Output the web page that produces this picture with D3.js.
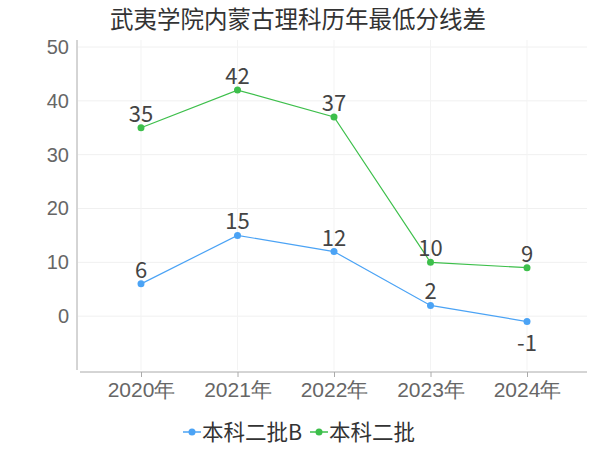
<!DOCTYPE html>
<html><head><meta charset="utf-8">
<script src="https://cdn.jsdelivr.net/npm/d3@7"></script>
<style>body{margin:0;background:#fff;font-family:"Noto Sans CJK SC","Noto Sans",sans-serif}</style>
</head><body><svg id="c" width="600" height="450"></svg>
<script>
const years = ['2020年', '2021年', '2022年', '2023年', '2024年'];
const seriesB = [6, 15, 12, 2, -1];
const seriesTwo = [35, 42, 37, 10, 9];
const yTicks = [0, 10, 20, 30, 40, 50];

const svg = d3.select('#c');
const x = d3.scalePoint().domain(years).range([141, 527]);
const y = d3.scaleLinear().domain([-10, 50]).range([370, 47]);

svg.append('text').attr('x', 110).attr('y', 28).attr('font-size', 23.5).attr('fill', '#333')
  .text('武夷学院内蒙古理科历年最低分线差');

// grid
svg.append('g').selectAll('line').data(yTicks).join('line')
  .attr('x1', 78).attr('x2', 587).attr('y1', d => y(d)).attr('y2', d => y(d))
  .attr('stroke', '#f0f0f0');
svg.append('g').selectAll('line').data(years).join('line')
  .attr('x1', d => x(d)).attr('x2', d => x(d)).attr('y1', 40).attr('y2', 370)
  .attr('stroke', '#f3f3f3');

const yAxis = svg.append('g').attr('transform', 'translate(77,0)')
  .call(d3.axisLeft(y).tickValues(yTicks).tickSize(0).tickPadding(8));
yAxis.select('.domain').attr('stroke', '#aaa').attr('d', 'M0,40V370');
yAxis.selectAll('text').attr('font-size', 20).attr('fill', '#666');

const xAxis = svg.append('g').attr('transform', 'translate(0,372)')
  .call(d3.axisBottom(x).tickSize(5).tickPadding(5));
xAxis.select('.domain').attr('stroke', '#aaa').attr('d', 'M80,0H587');
xAxis.selectAll('line').attr('stroke', '#aaa');
xAxis.selectAll('text').attr('font-size', 21).attr('fill', '#666');

function drawSeries(vals, color) {
  const line = d3.line().x((d, i) => x(years[i])).y(d => y(d));
  svg.append('path').datum(vals).attr('d', line).attr('fill', 'none').attr('stroke', color).attr('stroke-width', 1.2);
  svg.append('g').selectAll('circle').data(vals).join('circle')
    .attr('cx', (d, i) => x(years[i])).attr('cy', d => y(d)).attr('r', 3.5).attr('fill', color);
  svg.append('g').selectAll('text').data(vals).join('text')
    .attr('x', (d, i) => x(years[i])).attr('y', d => d < 0 ? y(d) + 29 : y(d) - 6)
    .attr('text-anchor', 'middle').attr('font-size', 22).attr('fill', '#444').text(d => d);
}
drawSeries(seriesB, '#4ba3f5');
drawSeries(seriesTwo, '#3dbf4b');

const legend = [['本科二批B', '#4ba3f5', 183], ['本科二批', '#3dbf4b', 310]];
legend.forEach(([name, color, lx]) => {
  const g = svg.append('g').attr('transform', `translate(${lx},432)`);
  g.append('line').attr('x1', 0).attr('x2', 18).attr('stroke', color).attr('stroke-width', 1.5);
  g.append('circle').attr('cx', 9).attr('r', 3.5).attr('fill', color);
  g.append('text').attr('x', 19).attr('y', 8).attr('font-size', 21.5).attr('fill', '#333').text(name);
});
</script></body></html>
